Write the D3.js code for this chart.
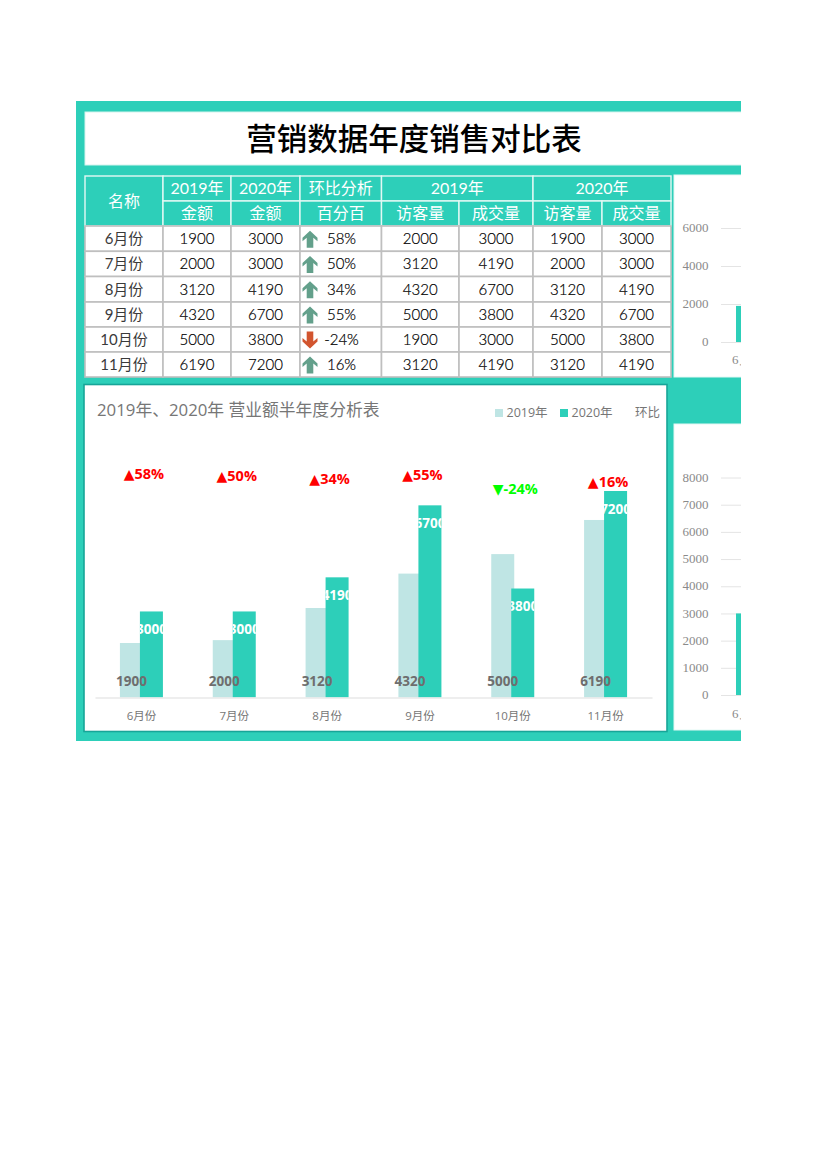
<!DOCTYPE html>
<html lang="zh">
<head>
<meta charset="utf-8">
<script src="https://cdn.jsdelivr.net/npm/d3@7"></script>
<style>
  html, body { margin: 0; padding: 0; background: #fff; }
  svg { display: block; }
  .cjk { font-family: "Noto Sans CJK SC", sans-serif; }
  .yahei { font-family: "Open Sans", "Noto Sans CJK SC", sans-serif; }
  .cell { font-family: Lato, "Noto Sans CJK SC", sans-serif; }
  .serif text { font-family: "Liberation Serif", serif; }
</style>
</head>
<body>
<svg id="sheet" width="827" height="1170"></svg>
<script>
// table + chart data
const months       = ['6月份', '7月份', '8月份', '9月份', '10月份', '11月份']
const sales2019    = [1900, 2000, 3120, 4320, 5000, 6190]
const sales2020    = [3000, 3000, 4190, 6700, 3800, 7200]
const ratioPct     = [58, 50, 34, 55, -24, 16]
const visitors2019 = [2000, 3120, 4320, 5000, 1900, 3120]
const deals2019    = [3000, 4190, 6700, 3800, 3000, 4190]
const visitors2020 = [1900, 2000, 3120, 4320, 5000, 3120]
const deals2020    = [3000, 3000, 4190, 6700, 3800, 4190]
// hidden 环比 series, only its labels show
const ratioHeight  = [7810, 7740, 7630, 7780, 7260, 7530]

const legendNames  = ['2019年', '2020年', '环比']
const topTicks     = [0, 2000, 4000, 6000]
const bottomTicks  = [0, 1000, 2000, 3000, 4000, 5000, 6000, 7000, 8000]

const TEAL  = '#2dcfb9'
const LIGHT = '#bfe5e4'
const DARK  = '#17a598'
const GRAY  = '#767676'

const svg = d3.select('#sheet')
const defs = svg.append('defs')

// the printed page cuts everything at the right edge
defs.append('clipPath').attr('id', 'page')
  .append('rect').attr('x', 0).attr('y', 0).attr('width', 741).attr('height', 1170)

const page = svg.append('g').attr('clip-path', 'url(#page)')

// frame
page.append('rect').attr('x', 76).attr('y', 101).attr('width', 680).attr('height', 640).attr('fill', TEAL)

// title
page.append('rect').attr('x', 85).attr('y', 112).attr('width', 670).attr('height', 53)
  .attr('fill', '#fff').attr('stroke', '#d5f3ee')
page.append('text').attr('class', 'cjk')
  .attr('x', 414).attr('y', 139.5).attr('dy', '0.36em')
  .attr('text-anchor', 'middle').attr('font-size', 30.5).attr('font-weight', 500)
  .attr('fill', '#000').text('营销数据年度销售对比表')

// table
const colEdges = [85, 163, 231, 300, 381.5, 459, 533, 602, 671]
const rowEdges = [176, 201, 226, 251.3, 276.5, 302, 327, 352, 377]
const table = page.append('g')

function cell(x0, x1, y0, y1, txt, opts) {
  table.append('rect')
    .attr('x', x0).attr('y', y0).attr('width', x1 - x0).attr('height', y1 - y0)
    .attr('fill', opts.fill).attr('stroke', opts.stroke).attr('stroke-width', opts.sw)
  const t = table.append('text').attr('class', 'cell')
    .attr('x', opts.tx || (x0 + x1) / 2).attr('y', (y0 + y1) / 2).attr('dy', '0.36em')
    .attr('text-anchor', 'middle').attr('font-size', opts.size).attr('fill', opts.color)
    .attr('font-weight', opts.weight)
    .text(txt)
  // light digits come out too pale, thicken them a hair
  if (opts.weight === 300) t.attr('stroke', '#000').attr('stroke-width', 0.2)
}

const headOpts = { fill: TEAL, stroke: '#e3f8f4', sw: 1.4, size: 16, color: '#fff', weight: 400 }
const bodyOpts = { fill: '#fff', stroke: '#bfbfbf', sw: 1.6, size: 15, color: '#000', weight: 300 }

cell(colEdges[0], colEdges[1], rowEdges[0], rowEdges[2], '名称', headOpts)
const topHead = [[1, 2, '2019年'], [2, 3, '2020年'], [3, 4, '环比分析'], [4, 6, '2019年'], [6, 8, '2020年']]
topHead.forEach(h => cell(colEdges[h[0]], colEdges[h[1]], rowEdges[0], rowEdges[1], h[2], headOpts))
const subHead = ['金额', '金额', '百分百', '访客量', '成交量', '访客量', '成交量']
subHead.forEach((t, i) => cell(colEdges[i + 1], colEdges[i + 2], rowEdges[1], rowEdges[2], t, headOpts))

const columns = [months, sales2019, sales2020, ratioPct.map(d => d + '%'),
  visitors2019, deals2019, visitors2020, deals2020]
columns.forEach((col, c) => {
  col.forEach((v, r) => {
    let opts = bodyOpts
    if (c === 0) opts = { ...bodyOpts, weight: 400, color: '#3a3a3a' }
    if (c === 3) opts = { ...bodyOpts, tx: colEdges[3] + 41.5 }
    cell(colEdges[c], colEdges[c + 1], rowEdges[r + 2], rowEdges[r + 3], v, opts)
  })
})

// icon-set arrows in the 环比 column
const arrowUp = 'M0,-8.5 L7.5,-1.5 L7.5,2 L3.3,-1.5 L3.3,8.5 L-3.3,8.5 L-3.3,-1.5 L-7.5,2 L-7.5,-1.5 Z'
ratioPct.forEach((d, r) => {
  const cy = (rowEdges[r + 2] + rowEdges[r + 3]) / 2
  table.append('path')
    .attr('d', arrowUp)
    .attr('transform', `translate(310,${cy + 0.5})${d < 0 ? ' rotate(180)' : ''}`)
    .attr('fill', d < 0 ? '#d2552f' : '#63a08b')
})

// partial charts on the right, only their left edge is on the page
function sideChart(box, domainMax, ticks, y0, y1, firstBar, monthY) {
  const g = page.append('g').attr('class', 'serif')
  g.append('rect').attr('x', box[0]).attr('y', box[1]).attr('width', box[2]).attr('height', box[3])
    .attr('fill', '#fff').attr('stroke', '#e3f8f4')

  const y = d3.scaleLinear().domain([0, domainMax]).range([y0, y1])
  const axis = d3.axisLeft(y).tickValues(ticks).tickFormat(d3.format('d')).tickSize(-100).tickPadding(12.5)
  const ax = g.append('g').attr('transform', 'translate(721,0)').call(axis)
  ax.select('.domain').remove()
  ax.selectAll('line').attr('stroke', '#e4e4e4')
  ax.selectAll('text').attr('fill', '#8a8a8a').attr('font-size', 13).attr('dy', '0.28em')

  g.append('rect').attr('x', 736).attr('y', y(firstBar)).attr('width', 23)
    .attr('height', y(0) - y(firstBar)).attr('fill', TEAL)
  g.append('text').attr('x', 732).attr('y', monthY)
    .attr('font-size', 13).attr('fill', '#8a8a8a').text(months[0])
}
sideChart([674, 175, 90, 202], 6000, topTicks, 342, 228, sales2019[0], 364)
sideChart([674, 424, 90, 306], 8000, bottomTicks, 695, 477.5, sales2020[0], 718)

// main chart card
const card = page.append('g')
card.append('rect').attr('x', 84).attr('y', 384.5).attr('width', 583).attr('height', 347)
  .attr('fill', '#fff').attr('stroke', DARK).attr('stroke-width', 1.6)

card.append('text').attr('class', 'yahei')
  .attr('x', 97).attr('y', 410).attr('dy', '0.36em')
  .attr('font-size', 16.8).attr('fill', GRAY)
  .text('2019年、2020年 营业额半年度分析表')

// legend
const legendX = [495, 560, 635]
legendNames.forEach((name, i) => {
  if (i < 2) {
    card.append('rect').attr('x', legendX[i]).attr('y', 409).attr('width', 8).attr('height', 8)
      .attr('fill', i === 0 ? LIGHT : TEAL)
  }
  card.append('text').attr('class', 'yahei')
    .attr('x', i < 2 ? legendX[i] + 11.5 : legendX[i]).attr('y', 412.5).attr('dy', '0.36em')
    .attr('font-size', 12.5).attr('fill', GRAY).text(name)
})

const x = d3.scaleBand().domain(months).range([95, 652])
const y = d3.scaleLinear().domain([0, 7200]).range([697.5, 491])
const barW = 23
const lightOffset = -21.5   // from band centre, the 2020 bar overlaps a little
const darkOffset = -1.5
const centre = d => x(d) + x.bandwidth() / 2

// bars, light series first
const chart = card.append('g')
chart.selectAll('rect.y2019').data(months).enter().append('rect')
  .attr('class', 'y2019')
  .attr('x', d => centre(d) + lightOffset)
  .attr('y', (d, i) => y(sales2019[i]))
  .attr('width', barW)
  .attr('height', (d, i) => y(0) - y(sales2019[i]))
  .attr('fill', LIGHT)
chart.selectAll('rect.y2020').data(months).enter().append('rect')
  .attr('class', 'y2020')
  .attr('x', d => centre(d) + darkOffset)
  .attr('y', (d, i) => y(sales2020[i]))
  .attr('width', barW)
  .attr('height', (d, i) => y(0) - y(sales2020[i]))
  .attr('fill', TEAL)

// x axis
const xAxis = chart.append('g').attr('transform', 'translate(0,697.5)')
  .call(d3.axisBottom(x).tickSize(0).tickPadding(14))
xAxis.select('.domain').attr('stroke', '#e8e8e8').attr('stroke-width', 1.5)
xAxis.selectAll('text').attr('font-size', 11.5).attr('fill', GRAY)
  .style('font-family', '"Open Sans", "Noto Sans CJK SC", sans-serif')

// 2019 labels sit at the bar base
chart.selectAll('text.lab2019').data(months).enter().append('text')
  .attr('class', 'lab2019 yahei')
  .attr('x', d => centre(d) - 10)
  .attr('y', 681).attr('dy', '0.36em')
  .attr('text-anchor', 'middle').attr('font-size', 13.5).attr('font-weight', 700)
  .attr('fill', '#6e6e6e')
  .text((d, i) => sales2019[i])

// 2020 labels are cut off by their own bar width
months.forEach((m, i) => {
  const id = 'barclip' + i
  defs.append('clipPath').attr('id', id).append('rect')
    .attr('x', centre(m) + darkOffset).attr('y', y(sales2020[i]))
    .attr('width', barW).attr('height', y(0) - y(sales2020[i]))
  chart.append('text').attr('class', 'yahei')
    .attr('clip-path', `url(#${id})`)
    .attr('x', centre(m) + darkOffset + barW / 2)
    .attr('y', y(sales2020[i]) + 18).attr('dy', '0.36em')
    .attr('text-anchor', 'middle').attr('font-size', 13.5).attr('font-weight', 700)
    .attr('fill', '#fff').text(sales2020[i])
})

// 环比 labels, the triangle glyph is set a bit smaller than the number
const ratioLab = chart.selectAll('text.ratio').data(months).enter().append('text')
  .attr('class', 'ratio yahei')
  .attr('x', d => centre(d) + 2.5)
  .attr('y', (d, i) => y(ratioHeight[i])).attr('dy', '0.36em')
  .attr('text-anchor', 'middle').attr('font-size', 14.5).attr('font-weight', 700)
  .attr('fill', (d, i) => ratioPct[i] < 0 ? '#00ff00' : '#ff0000')
ratioLab.append('tspan').attr('font-size', 14)
  .attr('font-family', '"DejaVu Sans", sans-serif')
  .text((d, i) => ratioPct[i] < 0 ? '▼' : '▲')
ratioLab.append('tspan').text((d, i) => ratioPct[i] + '%')
</script>
</body>
</html>
